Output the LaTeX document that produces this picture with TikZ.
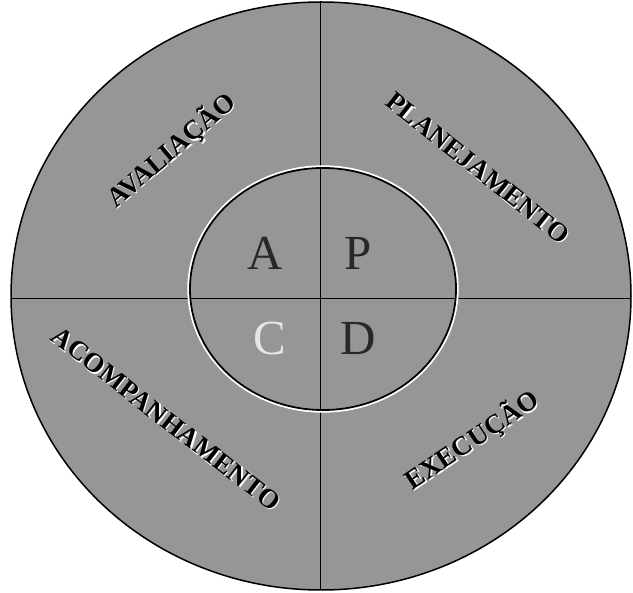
\documentclass[tikz,border=0pt]{standalone}
\usepackage{fontspec}
\setmainfont{Liberation Serif}
\definecolor{discgray}{RGB}{150,150,150}
\definecolor{letterdark}{RGB}{40,40,40}
\definecolor{letterlight}{RGB}{230,230,230}
\tikzset{
  rim/.style={draw=black, line width=1.5pt, fill=discgray},
  divider/.style={draw=black, line width=0.8pt},
  bigletter/.style={font=\fontsize{49}{49}\selectfont, inner sep=0pt, anchor=base},
  ringlabel/.style={font=\bfseries\fontsize{27}{27}\selectfont, inner sep=0pt, text=black},
  ringshadow/.style={font=\bfseries\fontsize{27}{27}\selectfont, inner sep=0pt, text=white}
}
\begin{document}
\begin{tikzpicture}[x=1pt,y=-1pt]
\useasboundingbox (0,0) rectangle (633,593);
% outer disc
\coordinate (oc) at (321,296);
\path[rim] (oc) ellipse [x radius=310, y radius=294];
% dividing lines clipped to disc
\begin{scope}
  \clip (oc) ellipse [x radius=310, y radius=294];
  \coordinate (vtop) at (320,-10);
  \coordinate (vbot) at (320,610);
  \coordinate (hl) at (0,298);
  \coordinate (hr) at (640,298);
  \draw[divider] (vtop) -- (vbot);
  \draw[divider] (hl) -- (hr);
\end{scope}
% inner circle outline (white halo + black)
\coordinate (ic) at (323,289);
\draw[white, line width=3.4pt] (ic) ellipse [x radius=134, y radius=122];
\draw[black, line width=1.8pt] (ic) ellipse [x radius=133, y radius=121];
% inner letters
\node[bigletter, text=letterdark] (A) at (265,270) {A};
\node[bigletter, text=letterdark] (P) at (358,270) {P};
\node[bigletter, text=letterlight] (Cl) at (270,355) {C};
\node[bigletter, text=letterdark] (D) at (358,355) {D};
% ring labels (white highlight behind, black on top)
\node[ringshadow, rotate=40.5] (avalsh) at (172.3,151.3) {AVALIAÇÃO};
\node[ringlabel, rotate=40.5] (aval) at (171,150) {AVALIAÇÃO};
\node[ringshadow, rotate=-38.5] (plansh) at (479.3,169.3) {PLANEJAMENTO};
\node[ringlabel, rotate=-38.5] (plan) at (478,168) {PLANEJAMENTO};
\node[ringshadow, rotate=-37.8] (acompsh) at (167.3,420.3) {ACOMPANHAMENTO};
\node[ringlabel, rotate=-37.8] (acomp) at (166,419) {ACOMPANHAMENTO};
\node[ringshadow, rotate=34] (execsh) at (473.3,441.3) {EXECUÇÃO};
\node[ringlabel, rotate=34] (exec) at (472,440) {EXECUÇÃO};
\end{tikzpicture}
\end{document}
